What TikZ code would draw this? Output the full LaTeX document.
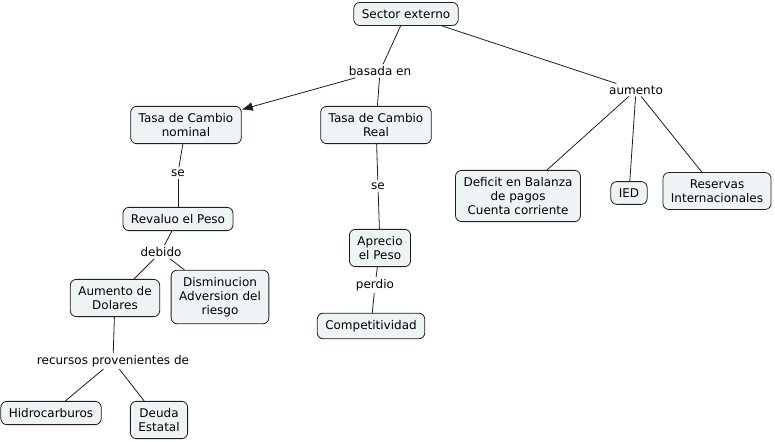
\documentclass[tikz,border=0pt]{standalone}
\usepackage{fontspec}
\setmainfont{DejaVu Sans}
\usetikzlibrary{arrows.meta}
\definecolor{cmapfill}{RGB}{238,244,246}
\definecolor{cmapline}{RGB}{30,30,30}

\begin{document}
\begin{tikzpicture}[x=1pt, y=-1pt,
	concept/.style={draw=cmapline, fill=cmapfill, rounded corners=6pt, align=center, inner xsep=8pt, inner ysep=7pt, line width=0.8pt, font=\fontsize{12}{14}\selectfont},
	linkword/.style={align=center, inner sep=2pt, font=\fontsize{12}{14}\selectfont},
	link/.style={draw=cmapline, line width=0.8pt}]
	\useasboundingbox (0,0) rectangle (775,441);

	% concepts
	\node[concept] (sector) at (406,14) {Sector externo};
	\node[concept] (nominal) at (186,125) {Tasa de Cambio\\nominal};
	\node[concept] (real) at (376,125) {Tasa de Cambio\\Real};
	\node[concept] (deficit) at (518,196) {Deficit en Balanza\\de pagos\\Cuenta corriente};
	\node[concept] (ied) at (629,193) {IED};
	\node[concept] (reservas) at (717,191) {Reservas\\Internacionales};
	\node[concept] (revaluo) at (178,219) {Revaluo el Peso};
	\node[concept] (dolares) at (115,298) {Aumento de\\Dolares};
	\node[concept] (adversion) at (220,297) {Disminucion\\Adversion del\\riesgo};
	\node[concept] (hidro) at (51,413) {Hidrocarburos};
	\node[concept] (deuda) at (159,420) {Deuda\\Estatal};
	\node[concept] (aprecio) at (380,248) {Aprecio\\el Peso};
	\node[concept] (compet) at (371,326) {Competitividad};

	% linking words
	\node[linkword] (basada) at (380,71) {basada en};
	\node[linkword] (aumento) at (636,90) {aumento};
	\node[linkword] (seNom) at (178,173) {se};
	\node[linkword] (debido) at (161,252) {debido};
	\node[linkword] (recursos) at (113,361) {recursos provenientes de};
	\node[linkword] (seReal) at (378,186) {se};
	\node[linkword] (perdio) at (375,285) {perdio};

	% links
	\draw[link] (sector) -- (basada);
	\draw[link, -{Latex[length=11pt, width=9pt]}] (basada) -- (nominal);
	\draw[link] (basada) -- (real);
	\draw[link] (sector) -- (aumento);
	\draw[link] (aumento) -- (deficit);
	\draw[link] (aumento) -- (ied);
	\draw[link] (aumento) -- (reservas);
	\draw[link] (nominal) -- (seNom);
	\draw[link] (seNom) -- (revaluo);
	\draw[link] (revaluo) -- (debido);
	\draw[link] (debido) -- (dolares);
	\draw[link] (debido) -- (adversion);
	\draw[link] (dolares) -- (recursos);
	\draw[link] (recursos) -- (hidro);
	\draw[link] (recursos) -- (deuda);
	\draw[link] (real) -- (seReal);
	\draw[link] (seReal) -- (aprecio);
	\draw[link] (aprecio) -- (perdio);
	\draw[link] (perdio) -- (compet);

\end{tikzpicture}
\end{document}
